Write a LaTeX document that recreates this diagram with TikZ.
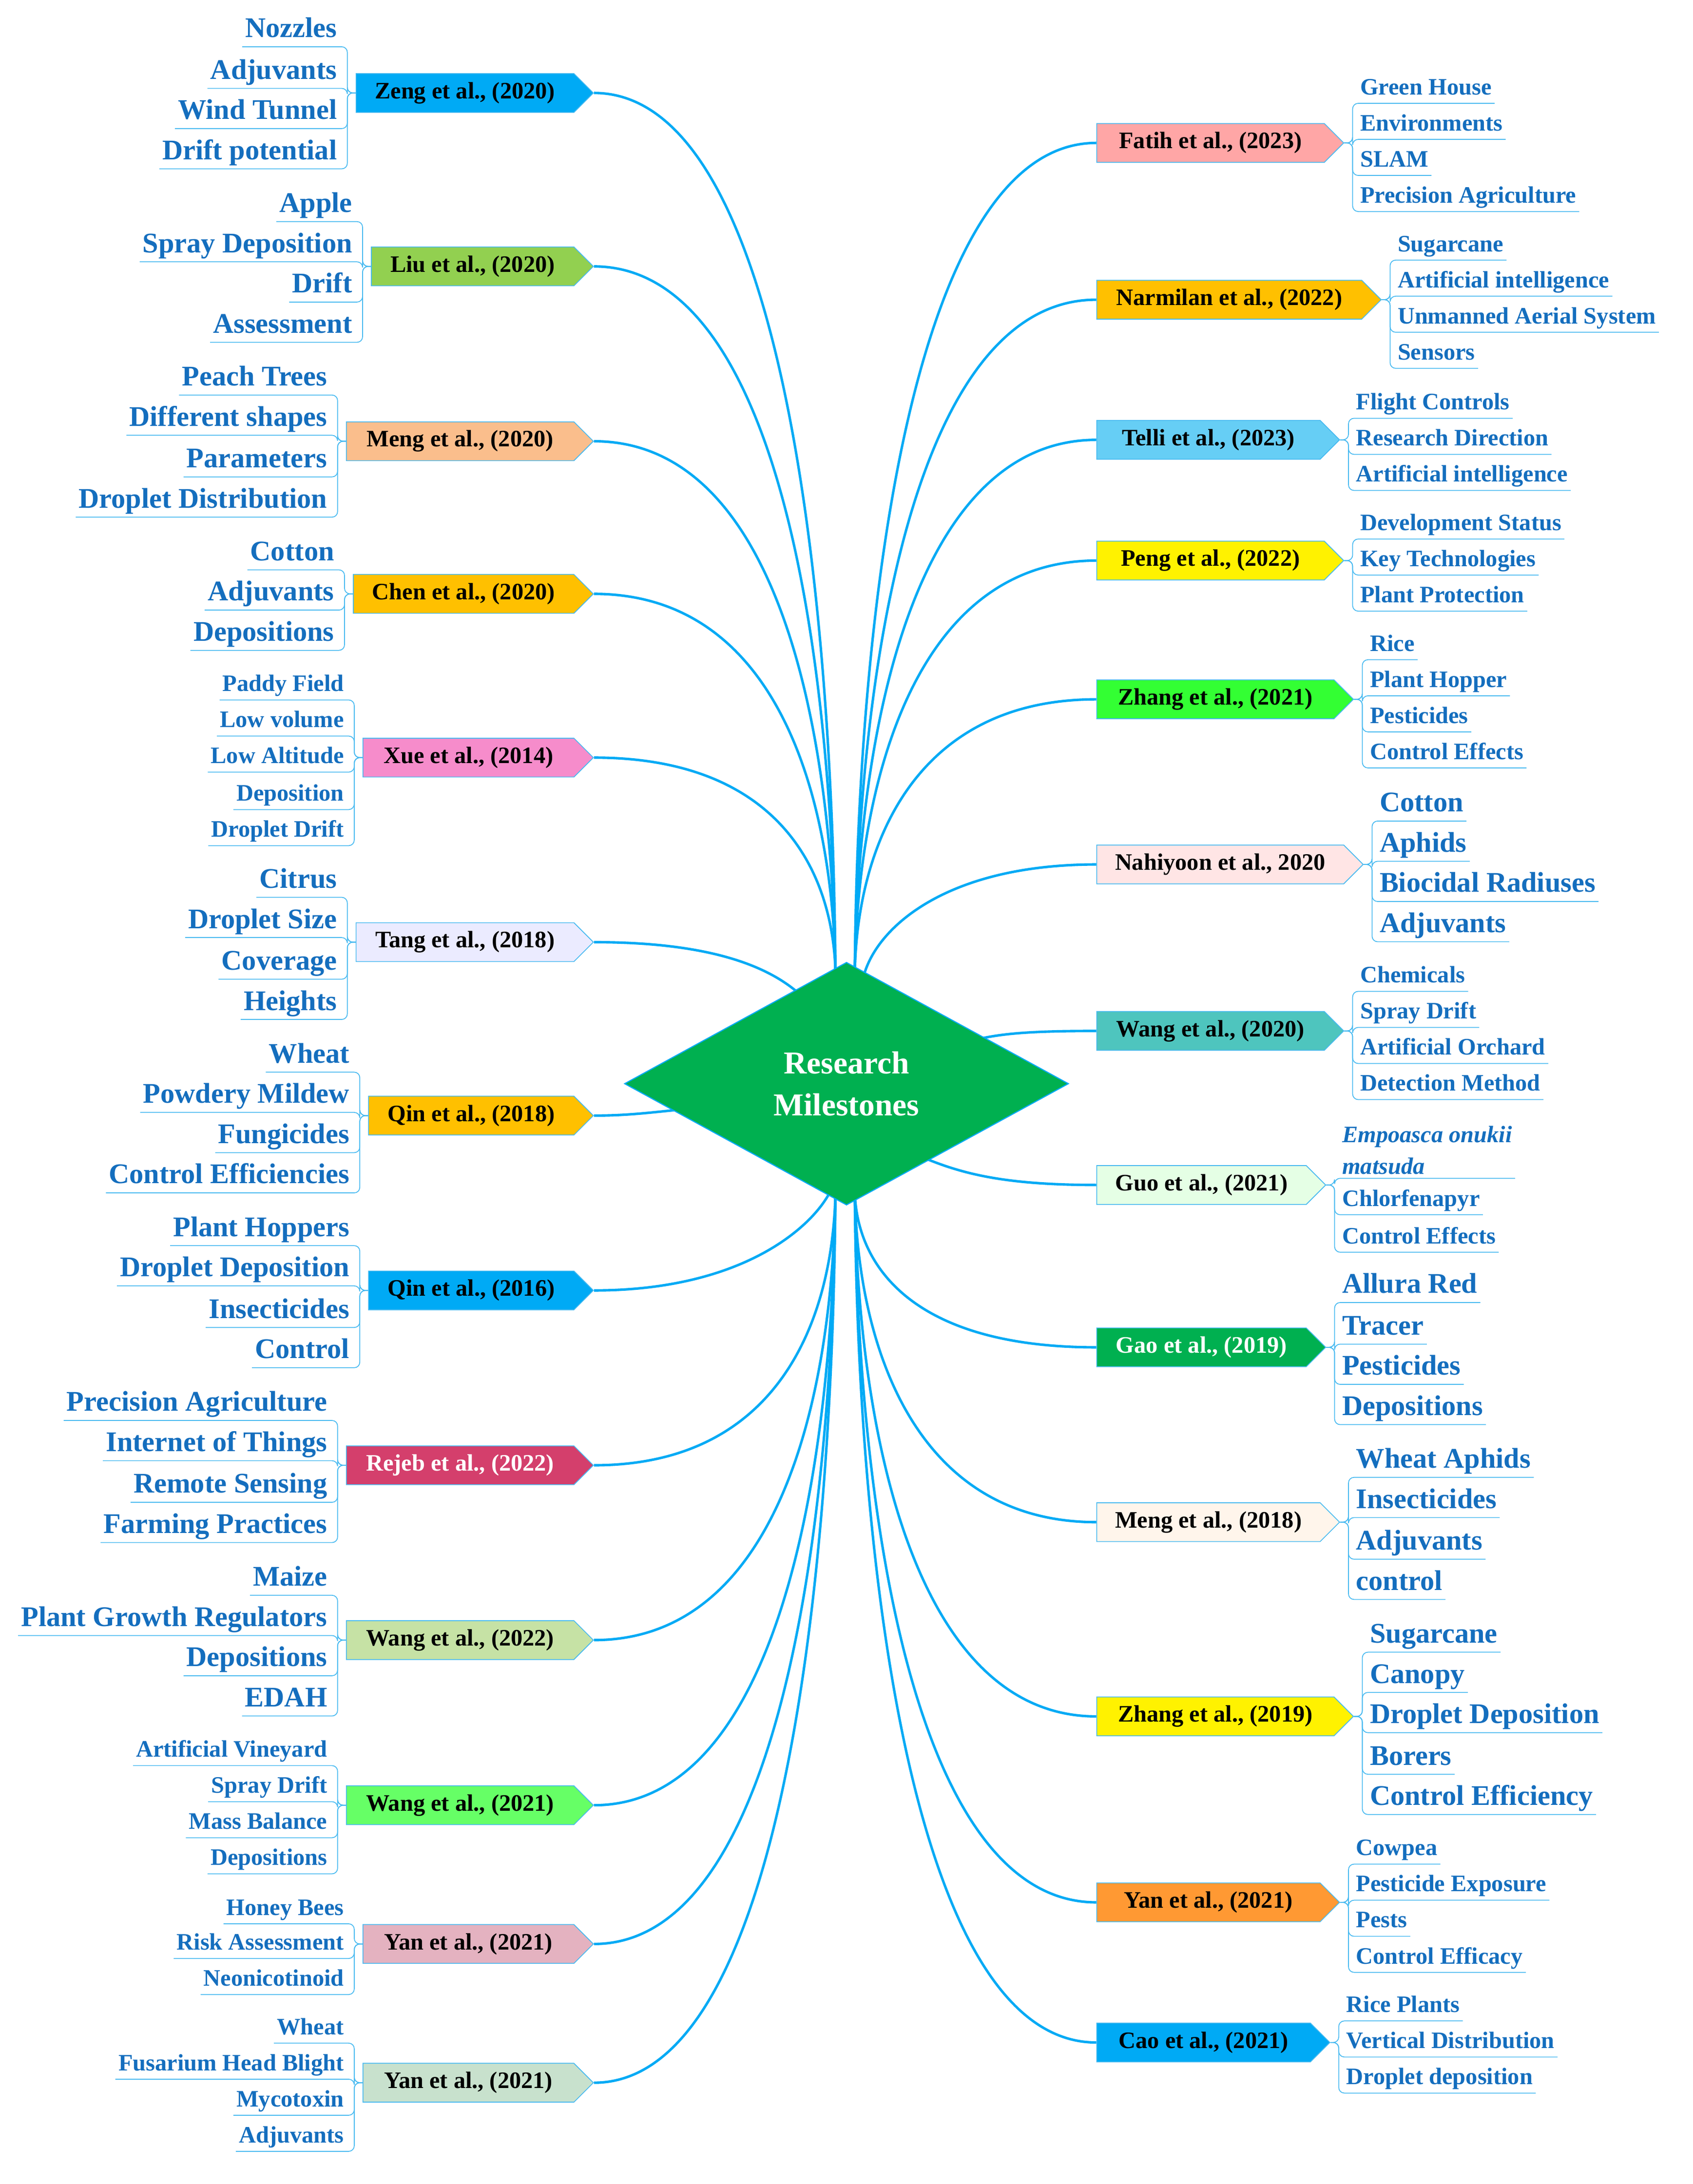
\documentclass[tikz,border=0pt]{standalone}
\usepackage{fontspec}
\setmainfont{Liberation Serif}
\usetikzlibrary{shapes.symbols,shapes.geometric}
\definecolor{lc}{RGB}{70,185,240}
\definecolor{cc}{RGB}{0,170,245}
\definecolor{tb}{RGB}{20,110,190}
\definecolor{gold}{RGB}{255,192,0}
\definecolor{lgreen}{RGB}{146,208,80}
\definecolor{dgreen}{RGB}{0,176,80}
\definecolor{rose}{RGB}{212,63,108}
\definecolor{tealb}{RGB}{78,197,190}
\definecolor{pinkb}{RGB}{228,178,192}
\definecolor{sage}{RGB}{200,225,205}
\definecolor{peach}{RGB}{250,190,140}
\definecolor{lime2}{RGB}{198,226,165}
\tikzset{
 conn/.style={draw=cc,line width=1.8pt},
 leafline/.style={draw=lc,line width=0.6pt,rounded corners=4},
 abox/.style={signal,signal to=east,signal pointer angle=90,draw=lc,line width=0.6pt,minimum height=28,inner xsep=6,font=\fontsize{17}{19}\selectfont\bfseries},
 big/.style={font=\fontsize{20.5}{22}\selectfont\bfseries,text=tb,text height=14,text depth=4,inner xsep=2,inner ysep=2.5},
 small/.style={font=\fontsize{17}{19}\selectfont\bfseries,text=tb,text height=12,text depth=3.5,inner xsep=2,inner ysep=2.5},
}
\newcommand\lbox[9]{%
 \node[abox,fill=#5,text=#6,anchor=east,minimum width={#3-#2}] (#1) at (#3,#4) {#7};
 \foreach \t/\ly [count=\i] in {#9}{
  \node[#8,anchor=east] (#1-\i) at (#2-12,\ly) {\t};
  \draw[leafline] (#1.west) -- ++(-6,0) |- (#1-\i.south west);
 }}
\newcommand\rbox[9]{%
 \node[abox,fill=#5,text=#6,anchor=west,minimum width={#3-#2}] (#1) at (#2,#4) {#7};
 \foreach \t/\ly [count=\i] in {#9}{
  \node[#8,anchor=west] (#1-\i) at (#3+10,\ly) {\t};
  \draw[leafline] (#1.east) -- ++(6,0) |- (#1-\i.south east);
 }}
\begin{document}
\begin{tikzpicture}[x=1pt,y=-1pt]
\useasboundingbox (0,0) rectangle (1220,1574);
\lbox{ze}{257}{428}{67}{cc}{black}{Zeng et al., (2020)}{big}{Nozzles/22,Adjuvants/52,Wind Tunnel/81,Drift potential/110}
\lbox{li}{268}{428}{192}{lgreen}{black}{Liu et al., (2020)}{big}{Apple/148,Spray Deposition/177,Drift/206,Assessment/235}
\lbox{me}{250}{428}{318}{peach}{black}{Meng et al., (2020)}{big}{Peach Trees/273,Different shapes/302,Parameters/332,Droplet Distribution/361}
\lbox{ch}{255}{428}{428}{gold}{black}{Chen et al., (2020)}{big}{Cotton/399,Adjuvants/428,Depositions/457}
\lbox{xu}{262}{428}{546}{magenta!45}{black}{Xue et al., (2014)}{small}{Paddy Field/494,Low volume/520,Low Altitude/546,Deposition/573,Droplet Drift/599}
\lbox{ta}{257}{428}{679}{blue!8}{black}{Tang et al., (2018)}{big}{Citrus/635,Droplet Size/664,Coverage/694,Heights/723}
\lbox{qa}{266}{428}{804}{gold}{black}{Qin et al., (2018)}{big}{Wheat/761,Powdery Mildew/790,Fungicides/819,Control Efficiencies/848}
\lbox{qb}{266}{428}{930}{cc}{black}{Qin et al., (2016)}{big}{Plant Hoppers/886,Droplet Deposition/915,Insecticides/945,Control/974}
\lbox{re}{250}{428}{1056}{rose}{white}{Rejeb et al., (2022)}{big}{Precision Agriculture/1012,Internet of Things/1041,Remote Sensing/1071,Farming Practices/1100}
\lbox{wa}{250}{428}{1182}{lime2}{black}{Wang et al., (2022)}{big}{Maize/1138,Plant Growth Regulators/1167,Depositions/1196,EDAH/1225}
\lbox{wb}{250}{428}{1301}{green!60!white}{black}{Wang et al., (2021)}{small}{Artificial Vineyard/1262,Spray Drift/1288,Mass Balance/1314,Depositions/1340}
\lbox{ya}{262}{428}{1401}{pinkb}{black}{Yan et al., (2021)}{small}{Honey Bees/1376,Risk Assessment/1401,Neonicotinoid/1427}
\lbox{yb}{262}{428}{1501}{sage}{black}{Yan et al., (2021)}{small}{Wheat/1462,Fusarium Head Blight/1488,Mycotoxin/1514,Adjuvants/1540}
\rbox{fa}{790}{968}{103}{red!35}{black}{Fatih et al., (2023)}{small}{Green House/64,Environments/90,SLAM/116,Precision Agriculture/142}
\rbox{na}{790}{995}{216}{gold}{black}{Narmilan et al., (2022)}{small}{Sugarcane/177,Artificial intelligence/203,Unmanned Aerial System/229,Sensors/255}
\rbox{te}{790}{965}{317}{cyan!60}{black}{Telli et al., (2023)}{small}{Flight Controls/291,Research Direction/317,Artificial intelligence/343}
\rbox{pe}{790}{968}{404}{yellow}{black}{Peng et al., (2022)}{small}{Development Status/378,Key Technologies/404,Plant Protection/430}
\rbox{zh}{790}{975}{504}{green!80!white}{black}{Zhang et al., (2021)}{small}{Rice/465,Plant Hopper/491,Pesticides/517,Control Effects/543}
\rbox{nh}{790}{982}{623}{red!10}{black}{Nahiyoon et al., 2020}{big}{Cotton/580,Aphids/609,Biocidal Radiuses/638,Adjuvants/667}
\rbox{wc}{790}{968}{743}{tealb}{black}{Wang et al., (2020)}{small}{Chemicals/704,Spray Drift/730,Artificial Orchard/756,Detection Method/782}
\node[abox,fill=green!10,anchor=west,minimum width=165] (gu) at (790,854) {Guo et al., (2021)};
\node[small,anchor=west,align=left,text height=,text depth=,font=\fontsize{17}{23}\selectfont\bfseries\itshape] (gu-1) at (965,829) {Empoasca onukii\\matsuda};
\node[small,anchor=west] (gu-2) at (965,865) {Chlorfenapyr};
\node[small,anchor=west] (gu-3) at (965,892) {Control Effects};
\foreach \i in {1,2,3}{\draw[leafline] (gu.east) -- ++(6,0) |- (gu-\i.south east);}
\rbox{ga}{790}{955}{971}{dgreen}{white}{Gao et al., (2019)}{big}{Allura Red/927,Tracer/957,Pesticides/986,Depositions/1015}
\rbox{mf}{790}{965}{1097}{orange!8}{black}{Meng et al., (2018)}{big}{Wheat Aphids/1053,Insecticides/1082,Adjuvants/1112,control/1141}
\rbox{zg}{790}{975}{1237}{yellow}{black}{Zhang et al., (2019)}{big}{Sugarcane/1179,Canopy/1208,Droplet Deposition/1237,Borers/1267,Control Efficiency/1296}
\rbox{yc}{790}{965}{1371}{orange!80}{black}{Yan et al., (2021)}{small}{Cowpea/1333,Pesticide Exposure/1359,Pests/1385,Control Efficacy/1411}
\rbox{ca}{790}{958}{1472}{cc}{black}{Cao et al.,  (2021)}{small}{Rice Plants/1446,Vertical Distribution/1472,Droplet deposition/1498}
\foreach \n/\y in {ze/67,li/192,me/318,ch/428,xu/546}{
 \draw[conn] (\n.east) .. controls (560,\y) and (600,{0.45*\y+0.55*693}) .. (602,700);}
\foreach \n/\y in {re/1056,wa/1182,wb/1301,ya/1401,yb/1501}{
 \draw[conn] (\n.east) .. controls (560,\y) and (600,{0.45*\y+0.55*868}) .. (602,860);}
\draw[conn] (qb.east) .. controls (540,930) and (590,880) .. (600,855);
\draw[conn] (ta.east) .. controls (520,679) and (560,700) .. (580,720);
\draw[conn] (qa.east) .. controls (460,804) and (480,800) .. (510,798);
\foreach \n/\y in {fa/103,na/216,te/317,pe/404,zh/504}{
 \draw[conn] (\n.west) .. controls (660,\y) and (618,{0.45*\y+0.55*693}) .. (616,700);}
\foreach \n/\y in {ga/971,mf/1097,zg/1237,yc/1371,ca/1472}{
 \draw[conn] (\n.west) .. controls (660,\y) and (618,{0.45*\y+0.55*868}) .. (616,860);}
\draw[conn] (nh.west) .. controls (680,623) and (630,670) .. (622,705);
\draw[conn] (wc.west) .. controls (740,743) and (720,745) .. (700,750);
\draw[conn] (gu.west) .. controls (720,854) and (690,845) .. (660,832);
\node[diamond,fill=dgreen,draw=cc,line width=0.8pt,minimum width=320,minimum height=175,inner sep=0,text=white,align=center,font=\fontsize{23}{30}\selectfont\bfseries] (c) at (610,781) {Research\\Milestones};
\end{tikzpicture}
\end{document}
